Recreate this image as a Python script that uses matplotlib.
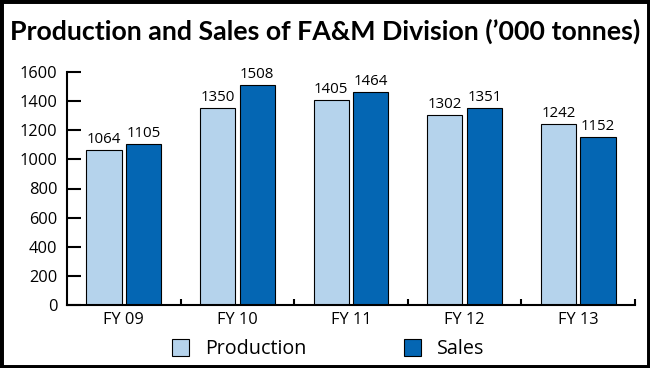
import matplotlib
matplotlib.use("Agg")
import matplotlib.pyplot as plt
from matplotlib.patches import Rectangle, Patch
import numpy as np

categories = ["FY 09", "FY 10", "FY 11", "FY 12", "FY 13"]
production = [1064, 1350, 1405, 1302, 1242]
sales = [1105, 1508, 1464, 1351, 1152]
yticks = [0, 200, 400, 600, 800, 1000, 1200, 1400, 1600]

FONT = ["Open Sans", "DejaVu Sans"]
plt.rcParams["font.family"] = FONT
C_PROD = "#b5d3ec"
C_SALES = "#0466b3"

fig = plt.figure(figsize=(6.5, 3.68), dpi=100)
ax = fig.add_axes([67/650, 1-305/368, (635-67)/650, (305-72)/368])

x = np.arange(len(categories))
w = 0.31
off = 0.175
ax.bar(x - off, production, w, color=C_PROD, edgecolor="black", linewidth=0.8, label="Production")
ax.bar(x + off, sales, w, color=C_SALES, edgecolor="black", linewidth=0.8, label="Sales")

for xi, v in zip(x - off, production):
    ax.text(xi, v + 22, str(v), ha="center", va="bottom", fontsize=10.8)
for xi, v in zip(x + off, sales):
    ax.text(xi, v + 22, str(v), ha="center", va="bottom", fontsize=10.8)

ax.set_xlim(-0.5, len(categories) - 0.5)
ax.set_ylim(0, 1600)
ax.set_yticks(yticks)
ax.set_yticklabels([str(t) for t in yticks], fontsize=11.8)
ax.tick_params(axis="y", direction="in", length=10, width=1.5, pad=7)
ax.set_xticks(x)
ax.set_xticklabels(categories, fontsize=11.8)
ax.tick_params(axis="x", which="major", length=0, pad=5)
ax.set_xticks(np.arange(0.5, len(categories)), minor=True)
ax.tick_params(axis="x", which="minor", direction="in", length=4, width=1.5)
for s in ["top", "right"]:
    ax.spines[s].set_visible(False)
for s in ["left", "bottom"]:
    ax.spines[s].set_linewidth(1.5)

title = fig.text(0.5, 1-31/368, "Production and Sales of FA&M Division (\u2019000 tonnes)",
                 ha="center", va="center", fontsize=19, fontweight="bold",
                 family=["Lato", "DejaVu Sans"])
# fit title width to ~632 px
fig.canvas.draw()
wpx = title.get_window_extent().width
title.set_fontsize(19 * 632 / wpx)

handles = [Patch(facecolor=C_PROD, edgecolor="black", linewidth=0.8),
           Patch(facecolor=C_SALES, edgecolor="black", linewidth=0.8)]
fig.legend(handles, ["Production", "Sales"], loc="center", bbox_to_anchor=(0.505, 1-349/368),
           ncol=2, frameon=False, fontsize=14.2, handlelength=0.86, handleheight=0.92,
           handletextpad=0.81, columnspacing=4.95)

fig.add_artist(Rectangle((0, 0), 1, 1, transform=fig.transFigure, fill=False,
                         edgecolor="black", linewidth=5, clip_on=False))

fig.savefig("out.png", dpi=100)
